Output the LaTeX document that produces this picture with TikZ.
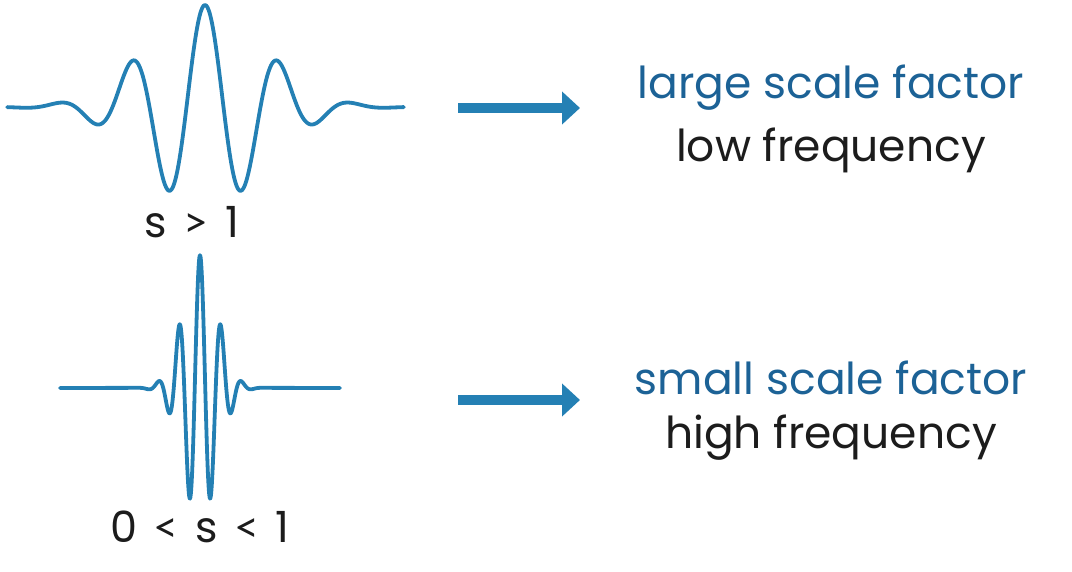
\documentclass[tikz,border=0pt]{standalone}
\usepackage{fontspec}
\setmainfont{Poppins}
\newfontfamily\relfont{Lato}
\newcommand{\rel}[1]{\hspace{5pt}{\relfont #1}\hspace{5pt}}
\usetikzlibrary{positioning,arrows.meta}
\definecolor{wblue}{RGB}{36,128,180}
\definecolor{tblue}{RGB}{28,98,150}
\definecolor{tgray}{RGB}{28,28,28}

\begin{document}
\begin{tikzpicture}
  [x=1pt,y=-1pt,
   wave/.style={wblue,line width=3.8pt,line join=round,line cap=round},
   pointer/.style={wblue,line width=10.5pt,-{Triangle[length=18pt,width=32pt]}},
   cond/.style={font=\fontsize{43}{50}\selectfont,text=tgray,inner sep=0pt},
   desc/.style={font=\fontsize{44}{52}\selectfont,inner sep=0pt}]

  \useasboundingbox (0,0) rectangle (1072,572);

  % wide wavelet
  \draw[wave] plot[domain=-3.41:3.43,samples=300,smooth]
    ({205+58*\x},{107-102*exp(-\x*\x/2)*cos(282.2*\x)});
  % narrow wavelet
  \draw[wave] (60,388) -- plot[domain=-3.6:3.6,samples=300,smooth]
    ({200+17*\x},{388-133*exp(-\x*\x/2)*cos(291.4*\x)}) -- (340,388);

  \node[cond] (s1) at (192,222) {s \rel{>} 1};
  \node[cond] (s2) at (200,527) {0 \rel{<} s \rel{<} 1};

  \coordinate (p1) at (458,108);
  \coordinate (q1) at (580,108);
  \coordinate (p2) at (458,400);
  \coordinate (q2) at (580,400);

  \node[desc,text=tblue] (big) at (831,88) {large scale factor};
  \node[desc,text=tgray] (low) at (831,150) {low frequency};
  \node[desc,text=tblue] (small) at (831,378) {small scale factor};
  \node[desc,text=tgray] (high) at (831,438) {high frequency};

  \draw[pointer] (p1) -- (q1);
  \draw[pointer] (p2) -- (q2);

\end{tikzpicture}
\end{document}
